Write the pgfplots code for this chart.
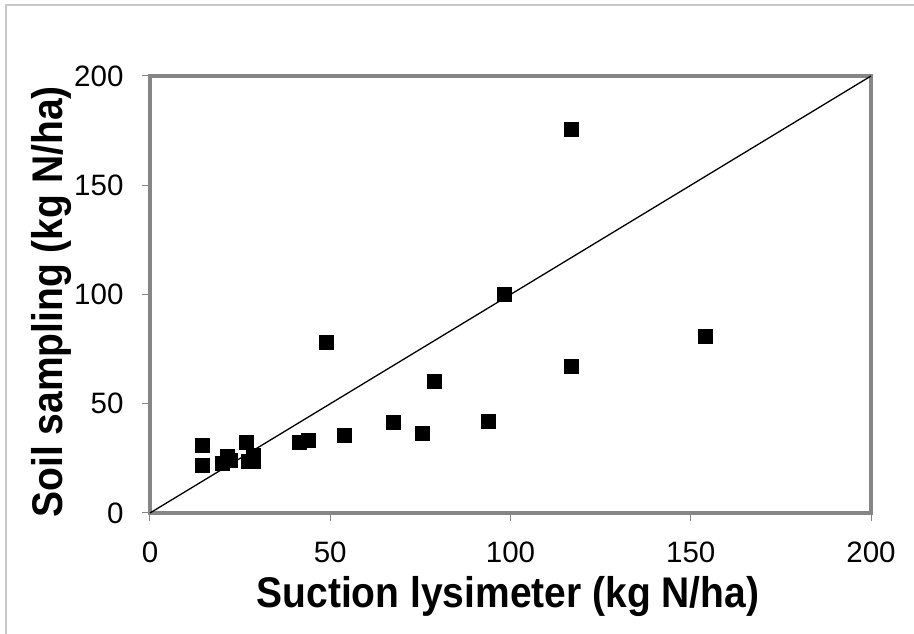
\documentclass[border=0pt]{standalone}
\usepackage{fontspec}
\setmainfont{Liberation Sans}
\usepackage{graphicx}
\usepackage{pgfplots}
\pgfplotsset{compat=1.18}
\definecolor{axgray}{RGB}{134,134,134}
\definecolor{framegray}{RGB}{200,200,200}
\begin{document}
\begin{tikzpicture}[x=1pt,y=1pt]
\path[use as bounding box] (-150,-121) rectangle (764,513);
\draw[framegray, line width=1.3pt] (-144,-121) -- (-144,508) -- (764,508);
\begin{axis}[
  at={(0pt,0pt)}, anchor=south west,
  scale only axis, width=721pt, height=437pt,
  xmin=0, xmax=200, ymin=0, ymax=200,
  xtick={0,50,100,150,200}, ytick={0,50,100,150,200},
  axis line style={draw=axgray, line width=4.5pt},
  tick style={draw=axgray, line width=1pt},
  tick align=outside, major tick length=8pt,
  tick pos=left,
  /pgf/number format/assume math mode=true,
  tick label style={font=\fontsize{29.5}{34}\selectfont},
  xticklabel style={yshift=-17pt},
  yticklabel style={xshift=-15pt},
  xlabel={\scalebox{1}[1.1]{Suction lysimeter (kg N/ha)}},
  ylabel={\scalebox{1}[1.1]{Soil sampling (kg N/ha)}},
  label style={font=\fontsize{39}{45}\selectfont\bfseries},
  xlabel style={at={(axis description cs:0.4965,0)}, anchor=center, yshift=-84pt},
  ylabel style={at={(axis description cs:-0.136,0.483)}, anchor=center},
  clip=false,
]
\addplot[black, line width=1.3pt] coordinates {(0,0) (200,200)};
\addplot[only marks, mark=square*, mark size=7pt, mark options={fill=black, draw=black}] coordinates {
(14.5,31.1) (14.5,22.1) (19.9,22.8) (21.3,25.8) (22.2,24.3)
(26.8,32.2) (27.3,23.5) (28.7,23.5) (28.7,26.5)
(41.4,32.6) (43.9,33.1) (53.9,35.7) (48.8,78.3)
(67.4,41.5) (75.6,36.5) (78.7,60.5) (93.7,41.8)
(98.2,100.1) (116.8,67.4) (116.8,175.7) (154.0,80.9)
};
\end{axis}
\end{tikzpicture}
\end{document}
